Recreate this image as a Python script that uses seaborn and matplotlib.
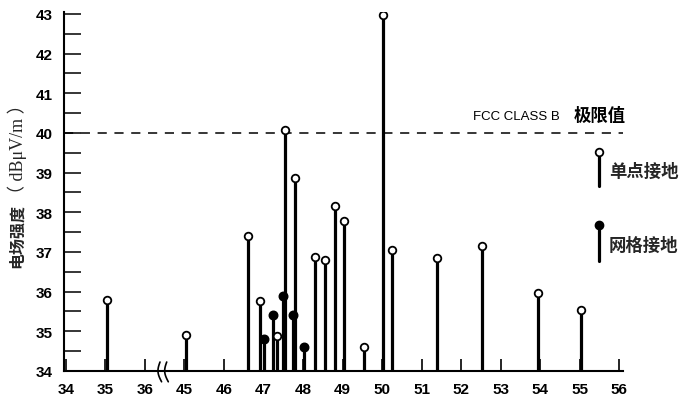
import numpy as np
import pandas as pd
import matplotlib
matplotlib.use("Agg")
import matplotlib.pyplot as plt
import matplotlib.transforms as mtransforms
import seaborn as sns

# ---- data ----
tick_labels = ["34", "35", "36", "45", "46", "47", "48", "49", "50",
               "51", "52", "53", "54", "55", "56"]

single_freq = [35.05, 45.05, 46.60, 46.92, 47.33, 47.55, 47.80, 48.30, 48.56,
               48.81, 49.05, 49.55, 50.03, 50.25, 51.39, 52.53, 53.95, 55.04]
single_val = [35.80, 34.90, 37.40, 35.77, 34.88, 40.07, 38.87, 36.88, 36.80,
              38.17, 37.78, 34.60, 42.97, 37.06, 36.86, 37.16, 35.96, 35.55]

grid_freq = [47.02, 47.25, 47.49, 47.75, 48.03]
grid_val = [34.80, 35.40, 35.90, 35.40, 34.60]

limit_val = 40.0
baseline = 34.0

CJK = ['Noto Sans CJK SC', 'DejaVu Sans']


def to_pos(f):
    # broken axis: 34-36 then 45-56
    f = np.asarray(f, dtype=float)
    return np.where(f <= 40, f - 34.0, f - 45.0 + 3.0)


sns.set_theme(style="white")
plt.rcParams['font.family'] = ['Liberation Sans', 'Noto Sans CJK SC', 'DejaVu Sans']

fig = plt.figure(figsize=(6.9, 4.02), dpi=100)
ax = fig.add_axes([64 / 690, 1 - 372 / 402, 559 / 690, 359 / 402])

df = pd.concat([
    pd.DataFrame({"pos": to_pos(single_freq), "val": single_val, "kind": "单点接地"}),
    pd.DataFrame({"pos": to_pos(grid_freq), "val": grid_val, "kind": "网格接地"}),
], ignore_index=True)

# stems
ax.vlines(df["pos"], baseline, df["val"], colors="black", linewidth=2.3, zorder=2)

# markers via seaborn
sub_s = df[df["kind"] == "单点接地"]
sub_g = df[df["kind"] == "网格接地"]
sns.scatterplot(data=sub_g, x="pos", y="val", ax=ax, s=38, color="black",
                edgecolor="black", linewidth=1.0, zorder=3, legend=False)
sns.scatterplot(data=sub_s, x="pos", y="val", ax=ax, s=30, color="white",
                edgecolor="black", linewidth=1.3, zorder=4, legend=False)

# limit line
ax.axhline(limit_val, color="black", linewidth=1.1, linestyle=(0, (6, 5)), zorder=1,
           xmin=0, xmax=1.0)

ax.set_xlim(-0.05, 14.1)
ax.set_ylim(34, 43.05)
ax.set_xticks(range(len(tick_labels)))
ax.set_xticklabels(tick_labels)
ax.set_yticks(range(34, 44))
ax.set_yticks(np.arange(34.5, 43, 1.0), minor=True)
ax.set_xlabel("")
ax.set_ylabel("")

for lab in ax.get_xticklabels() + ax.get_yticklabels():
    lab.set_fontweight("bold")
    lab.set_fontsize(11)

ax.tick_params(axis="x", direction="in", length=9, width=1.2, pad=8, colors="black")
ax.tick_params(axis="y", which="both", direction="in", length=12, width=1.1, pad=8,
               colors="black", left=True)
ax.tick_params(axis="y", which="minor", length=12)
ax.tick_params(axis="x", bottom=True)

for side in ["top", "right"]:
    ax.spines[side].set_visible(False)
for side in ["left", "bottom"]:
    ax.spines[side].set_color("black")
    ax.spines[side].set_linewidth(1.5)

# axis break marks
trans = mtransforms.blended_transform_factory(ax.transData, ax.transAxes)
t = np.linspace(0, 1, 40)
for x0 in (2.38, 2.55):
    xs = x0 - 0.07 * np.sin(np.pi * t) + 0.04 * t
    ys = 0.025 - 0.055 * t
    ax.plot(xs, ys, color="black", linewidth=1.2, transform=trans, clip_on=False)

# limit label
ax.text(0.732, 0.710, "FCC CLASS B", transform=ax.transAxes, fontsize=9.5,
        ha="left", va="center", color="black")
ax.text(0.912, 0.712, "极限值", transform=ax.transAxes, fontsize=12.5,
        fontweight="bold", ha="left", va="center", color="black", family=CJK)

# manual legend
ax.plot([0.957, 0.957], [0.611, 0.516], color="black", linewidth=2.3,
        transform=ax.transAxes, clip_on=False, zorder=2)
ax.plot([0.957], [0.611], marker="o", markersize=5.5, markerfacecolor="white",
        markeredgecolor="black", markeredgewidth=1.3, transform=ax.transAxes,
        clip_on=False, zorder=3)
ax.text(0.975, 0.558, "单点接地", transform=ax.transAxes, fontsize=12.5,
        fontweight="bold", ha="left", va="center", family=CJK)
ax.plot([0.957, 0.957], [0.407, 0.307], color="black", linewidth=2.3,
        transform=ax.transAxes, clip_on=False, zorder=2)
ax.plot([0.957], [0.407], marker="o", markersize=6, markerfacecolor="black",
        markeredgecolor="black", transform=ax.transAxes, clip_on=False, zorder=3)
ax.text(0.975, 0.351, "网格接地", transform=ax.transAxes, fontsize=12.5,
        fontweight="bold", ha="left", va="center", family=CJK)

# y label built from two pieces stacked bottom to top
fig.canvas.draw()
renderer = fig.canvas.get_renderer()
pieces = [("电场强度", dict(fontsize=11.5, fontweight="bold", family=CJK), 17),
          ("（ dBμV/m ）", dict(fontsize=13,
                                family=['Liberation Serif', 'Noto Sans CJK SC', 'DejaVu Sans']), 17)]
y_px = 402 - 268
for txt, kw, xp in pieces:
    tobj = fig.text(xp / 690, y_px / 402, txt, rotation=90, ha="center", va="bottom", **kw)
    bb = tobj.get_window_extent(renderer)
    y_px = bb.y1 + 1

fig.savefig("out.png", dpi=100, facecolor="white")
